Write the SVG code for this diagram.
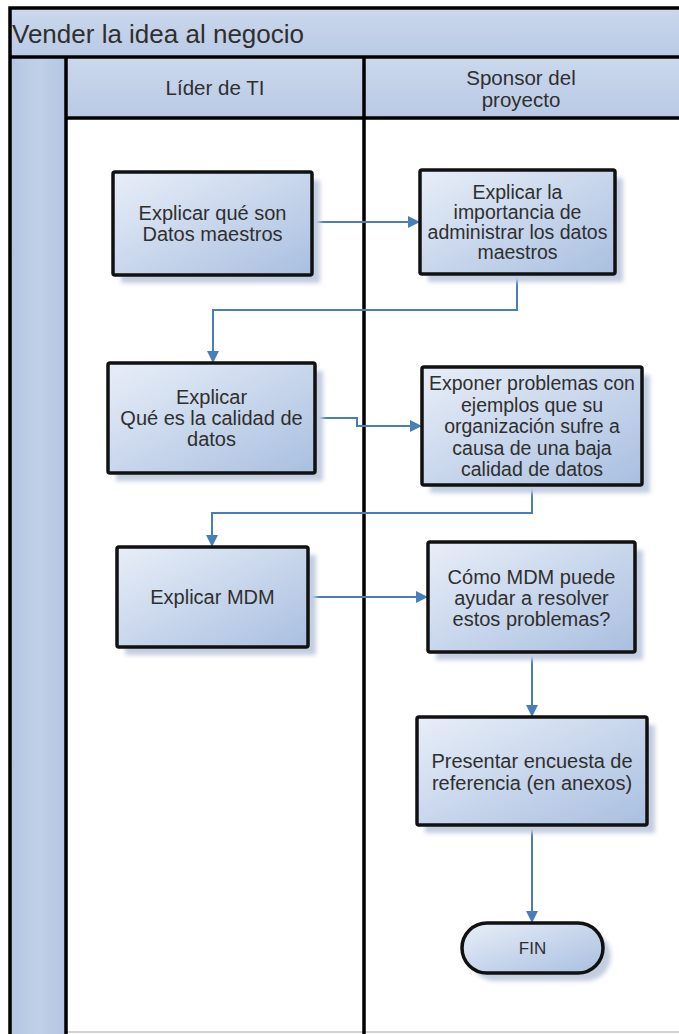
<svg xmlns="http://www.w3.org/2000/svg" width="679" height="1034" viewBox="0 0 679 1034">
<style>
.t{font-family:"Liberation Sans",Arial,sans-serif;fill:#2f2f2f;text-anchor:middle}
.bx{fill:url(#ng);stroke:#111;stroke-width:3.5}
.sh{fill:#c3cde0;filter:url(#blur)}
.conn{stroke:#4a7ebb;stroke-width:2;fill:none;marker-end:url(#arr)}
.ln{stroke:#000;stroke-width:3.5;fill:none}
</style>
<defs>
<linearGradient id="ng" x1="0" y1="0" x2="1" y2="1">
<stop offset="0" stop-color="#e8eef8"/>
<stop offset="1" stop-color="#a9bfe0"/>
</linearGradient>
<linearGradient id="hg" x1="0" y1="0" x2="0" y2="1">
<stop offset="0" stop-color="#cbd8ec"/>
<stop offset="1" stop-color="#b9cae5"/>
</linearGradient>
<linearGradient id="bg" x1="0" y1="0" x2="1" y2="0">
<stop offset="0" stop-color="#b3c6e2"/>
<stop offset="0.5" stop-color="#c0d0e8"/>
<stop offset="1" stop-color="#b3c6e2"/>
</linearGradient>
<filter id="blur" x="-10%" y="-10%" width="120%" height="120%"><feGaussianBlur stdDeviation="2"/></filter>
<marker id="arr" markerWidth="12" markerHeight="12" refX="12" refY="6" orient="auto" markerUnits="userSpaceOnUse">
<path d="M0,0 L12,6 L0,12 z" fill="#4a7ebb"/>
</marker>
</defs>

<g id="pool">
<rect x="0" y="0" width="679" height="1034" fill="#fff"/>
<rect x="10" y="8" width="675" height="49" fill="url(#hg)"/>
<rect x="10" y="57" width="56" height="980" fill="url(#bg)"/>
<rect x="66" y="57" width="620" height="61" fill="url(#hg)"/>
<line x1="66" y1="1032" x2="679" y2="1032" stroke="#d2d2d2" stroke-width="2"/>
<path class="ln" d="M10,1034 V8 H685"/>
<line class="ln" x1="10" y1="57" x2="685" y2="57"/>
<line class="ln" x1="66" y1="57" x2="66" y2="1034"/>
<line class="ln" x1="66" y1="118" x2="685" y2="118"/>
<line class="ln" x1="364" y1="57" x2="364" y2="1034"/>
<text class="t" x="12" y="43" style="text-anchor:start;font-size:26px">Vender la idea al negocio</text>
</g>

<g id="lane-lider">
<text class="t" x="215" y="95" font-size="20.5">Líder de TI</text>
</g>
<g id="lane-sponsor">
<text class="t" x="521" y="85" font-size="20.5">Sponsor del</text>
<text class="t" x="521" y="107" font-size="20.5">proyecto</text>
</g>

<g id="connectors">
<path class="conn" d="M312,222 H420"/>
<path class="conn" d="M517,274 V310 H213 V363"/>
<path class="conn" d="M315,418 H357 V426 H422"/>
<path class="conn" d="M532,485 V513 H212 V547"/>
<path class="conn" d="M308,597 H428"/>
<path class="conn" d="M532,652 V717"/>
<path class="conn" d="M532,825 V923"/>
</g>

<g id="n1">
<rect class="sh" x="121" y="180" width="199" height="103"/>
<rect class="bx" x="113" y="172" width="199" height="103" rx="2"/>
<text class="t" font-size="20"><tspan x="212.5" y="220">Explicar qué son</tspan><tspan x="212.5" y="241">Datos maestros</tspan></text>
</g>

<g id="n2">
<rect class="sh" x="428" y="178" width="195" height="104"/>
<rect class="bx" x="420" y="170" width="195" height="104" rx="2"/>
<text class="t" font-size="19.5"><tspan x="517.5" y="199">Explicar la</tspan><tspan x="517.5" y="219">importancia de</tspan><tspan x="517.5" y="239">administrar los datos</tspan><tspan x="517.5" y="259">maestros</tspan></text>
</g>

<g id="n3">
<rect class="sh" x="116" y="371" width="207" height="110"/>
<rect class="bx" x="108" y="363" width="207" height="110" rx="2"/>
<text class="t" font-size="20"><tspan x="211.5" y="404">Explicar</tspan><tspan x="211.5" y="425">Qué es la calidad de</tspan><tspan x="211.5" y="446">datos</tspan></text>
</g>

<g id="n4">
<rect class="sh" x="430" y="375" width="220" height="118"/>
<rect class="bx" x="422" y="367" width="220" height="118" rx="2"/>
<text class="t" font-size="19.5"><tspan x="532" y="390">Exponer problemas con</tspan><tspan x="532" y="411.5">ejemplos que su</tspan><tspan x="532" y="433">organización sufre a</tspan><tspan x="532" y="454.5">causa de una baja</tspan><tspan x="532" y="476">calidad de datos</tspan></text>
</g>

<g id="n5">
<rect class="sh" x="125" y="555" width="191" height="100"/>
<rect class="bx" x="117" y="547" width="191" height="100" rx="2"/>
<text class="t" x="212.5" y="604" font-size="20">Explicar MDM</text>
</g>

<g id="n6">
<rect class="sh" x="436" y="550" width="207" height="110"/>
<rect class="bx" x="428" y="542" width="207" height="110" rx="2"/>
<text class="t" font-size="20"><tspan x="531.5" y="584">Cómo MDM puede</tspan><tspan x="531.5" y="605">ayudar a resolver</tspan><tspan x="531.5" y="626">estos problemas?</tspan></text>
</g>

<g id="n7">
<rect class="sh" x="425" y="725" width="230" height="108"/>
<rect class="bx" x="417" y="717" width="230" height="108" rx="2"/>
<text class="t" font-size="20"><tspan x="532" y="768">Presentar encuesta de</tspan><tspan x="532" y="790">referencia (en anexos)</tspan></text>
</g>

<g id="fin">
<rect class="sh" x="470" y="931" width="141" height="50" rx="25"/>
<rect class="bx" x="462" y="923" width="141" height="50" rx="25"/>
<text class="t" x="532.5" y="954" font-size="17">FIN</text>
</g>
</svg>
